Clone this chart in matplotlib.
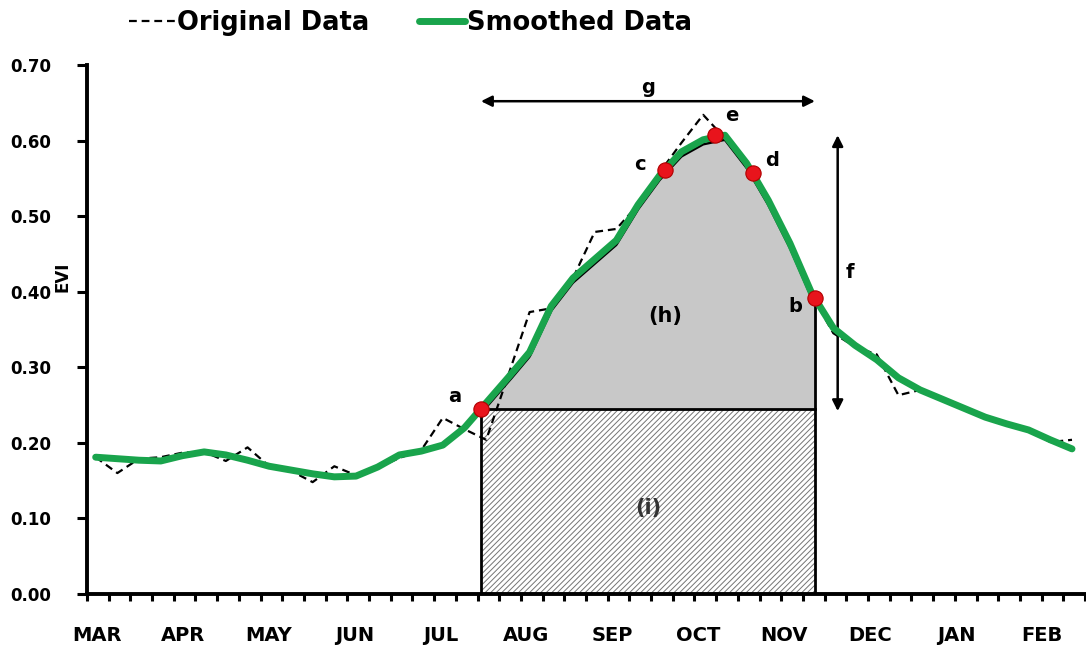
import numpy as np
import matplotlib
matplotlib.use("Agg")
import matplotlib.pyplot as plt
from matplotlib.patches import Rectangle

# 8-day composites, Mar -> Feb
months = ["MAR", "APR", "MAY", "JUN", "JUL", "AUG", "SEP", "OCT", "NOV", "DEC", "JAN", "FEB"]

original_evi = [
    0.181, 0.160, 0.179, 0.181, 0.187, 0.188, 0.176, 0.194, 0.169, 0.163,
    0.148, 0.169, 0.157, 0.167, 0.180, 0.190, 0.233, 0.218, 0.204, 0.288,
    0.373, 0.378, 0.418, 0.479, 0.483, 0.515, 0.558, 0.597, 0.634, 0.603,
    0.567, 0.524, 0.468, 0.396, 0.345, 0.327, 0.317, 0.263, 0.270, 0.257,
    0.246, 0.234, 0.225, 0.217, 0.201, 0.204,
]
smoothed_evi = [
    0.181, 0.179, 0.177, 0.176, 0.183, 0.188, 0.184, 0.177, 0.169, 0.164,
    0.159, 0.155, 0.156, 0.168, 0.184, 0.189, 0.197, 0.220, 0.253, 0.286,
    0.320, 0.381, 0.418, 0.443, 0.468, 0.515, 0.554, 0.585, 0.601, 0.607,
    0.570, 0.521, 0.464, 0.398, 0.352, 0.329, 0.310, 0.286, 0.270, 0.258,
    0.246, 0.234, 0.225, 0.217, 0.204, 0.192,
]

# phenology key points: a=start, b=end, c/d=mid-season, e=peak
key_labels = ["a", "b", "c", "d", "e"]
key_period = [18.16, 33.55, 26.64, 30.69, 28.94]
key_evi = [0.245, 0.392, 0.561, 0.557, 0.607]

green = "#19a44c"
x = np.arange(len(smoothed_evi)) + 0.4

plt.rcParams["hatch.linewidth"] = 0.7

fig = plt.figure(figsize=(10.86, 6.46), dpi=100)
ax = fig.add_axes([0.0801, 0.0805, 0.919, 0.819])

# season areas
start_x, end_x = key_period[0], key_period[1]
base = key_evi[0]
xs = np.linspace(start_x, end_x, 300)
top = np.interp(xs, x, smoothed_evi) - 0.006
ax.fill_between(xs, base, top, color="#c8c8c8", lw=0, zorder=1)
ax.plot(xs, top, color="black", lw=1.8, zorder=2)
ax.add_patch(Rectangle((start_x, 0), end_x - start_x, base, facecolor="white",
                       edgecolor="#747474", hatch="//////", lw=0, zorder=1))
ax.add_patch(Rectangle((start_x, 0), end_x - start_x, base, fill=False,
                       edgecolor="black", lw=2, zorder=2))
ax.plot([end_x, end_x], [base, top[-1]], color="black", lw=2, zorder=2)

ax.plot(x, original_evi, color="black", lw=1.6, dashes=(3.5, 2.2), zorder=3,
        label="Original Data")
ax.plot(x, smoothed_evi, color=green, lw=5, zorder=4, solid_capstyle="round",
        solid_joinstyle="round", label="Smoothed Data")
ax.plot(key_period, key_evi, "o", color="#e8141c", mec="#b00000", mew=0.8,
        ms=11, zorder=5)

offsets = {"a": (-19, 9), "b": (-14, -6), "c": (-18, 4), "d": (14, 9), "e": (12, 14)}
for lab, px, py in zip(key_labels, key_period, key_evi):
    ax.annotate(lab, (px, py), xytext=offsets[lab], textcoords="offset points",
                ha="center", va="center", fontsize=14, fontweight="bold", zorder=6)

# length of season (g) and amplitude (f)
g_y = key_evi[4] + 0.045
ax.annotate("", xy=(start_x, g_y), xytext=(end_x, g_y),
            arrowprops=dict(arrowstyle="<|-|>", color="black", lw=1.8, mutation_scale=16,
                            shrinkA=0, shrinkB=0))
ax.text((start_x + end_x) / 2, g_y + 0.018, "g", ha="center", va="center",
        fontsize=14, fontweight="bold")
f_x = end_x + 1.05
ax.annotate("", xy=(f_x, key_evi[4]), xytext=(f_x, base - 0.003),
            arrowprops=dict(arrowstyle="<|-|>", color="black", lw=1.8, mutation_scale=16,
                            shrinkA=0, shrinkB=0))
ax.text(f_x + 0.55, (key_evi[4] + base) / 2, "f", ha="center", va="center",
        fontsize=14, fontweight="bold")
ax.text((start_x + end_x) / 2 + 0.8, 0.368, "(h)", ha="center", va="center",
        fontsize=15, fontweight="bold", zorder=6)
ax.text((start_x + end_x) / 2, 0.114, "(i)", ha="center", va="center",
        fontsize=15, fontweight="bold", color="#333333", zorder=6)

ax.set_xlim(0, 46)
ax.set_ylim(0, 0.70)
ax.set_xticks(np.arange(0, 47))
ax.set_xticklabels([])
ax.set_yticks(np.arange(0, 0.71, 0.1))
ax.set_yticklabels([f"{v:.2f}" for v in np.arange(0, 0.71, 0.1)],
                   fontsize=12, fontweight="bold")
ax.tick_params(axis="x", direction="out", length=5, width=2.2)
ax.tick_params(axis="y", direction="out", length=7, width=2.2, pad=19)
for k, m in enumerate(months):
    ax.text(0.46 + 3.96 * k, -0.079, m, transform=ax.get_xaxis_transform(),
            ha="center", va="center", fontsize=14, fontweight="bold")
ax.set_ylabel("EVI", fontsize=12, fontweight="bold")
ax.yaxis.set_label_coords(-0.016, 0.60)

for s in ["top", "right"]:
    ax.spines[s].set_visible(False)
for s in ["left", "bottom"]:
    ax.spines[s].set_linewidth(2.8)

fig.legend(loc="center", bbox_to_anchor=(0.378, 0.964), ncol=2, frameon=False,
           prop={"weight": "bold", "size": 18.5}, handlelength=1.8,
           handletextpad=0.1, columnspacing=1.9)

plt.savefig("out.png", dpi=100)
